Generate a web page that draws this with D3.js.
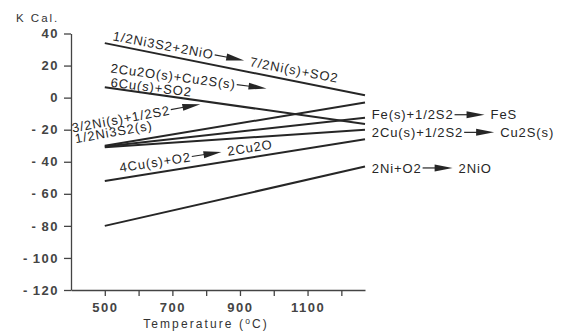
<!DOCTYPE html>
<html>
<head>
<meta charset="utf-8">
<script src="https://cdn.jsdelivr.net/npm/d3@7"></script>
<style>
  body { margin: 0; background: #fff; }
  svg text { font-family: "Liberation Sans", Arial, sans-serif; }
</style>
</head>
<body>
<svg id="chart" width="561" height="331"></svg>
<script>
// temperatures (deg C) at the two ends of every line
var temps = [500, 1270];

// free energy, K Cal, at 500 and at the right end
var ni3s2_nio = [34, 1.5];
var cu2o_cu2s = [6.5, -16.5];
var ni_s2 = [-30, -3];
var fe_s2 = [-30.5, -12.5];
var cu_s2 = [-31, -20];
var cu_o2 = [-52, -26];
var ni_o2 = [-80, -43];

var series = [ni3s2_nio, cu2o_cu2s, ni_s2, fe_s2, cu_s2, cu_o2, ni_o2];

var yTicks = [40, 20, 0, -20, -40, -60, -80, -100, -120];
var xTicks = [500, 600, 700, 800, 900, 1000, 1100, 1200];
var xTickLabels = [500, 700, 900, 1100];

var ARROW = "->";

// reaction labels: text parts, anchor (temp, kcal) and slant
var labels = [
  { parts: ["1/2Ni3S2+2NiO", ARROW, "7/2Ni(s)+SO2"], t: 522, v: 35.8, angle: 10.7 },
  { parts: ["2Cu2O(s)+Cu2S(s)", ARROW], t: 516, v: 15.6, angle: 7.5 },
  { parts: ["6Cu(s)+SO2"], t: 516, v: 6.8, angle: 7 },
  { parts: ["3/2Ni(s)+1/2S2", ARROW], t: 405, v: -21.8, angle: -10.5 },
  { parts: ["1/2Ni3S2(s)"], t: 414, v: -28.4, angle: -10 },
  { parts: ["4Cu(s)+O2", ARROW, "2Cu2O"], t: 546, v: -46.6, angle: -8.8 },
  { parts: ["Fe(s)+1/2S2", ARROW, "FeS"], t: 1290, v: -13.6, angle: 0 },
  { parts: ["2Cu(s)+1/2S2", ARROW, "Cu2S(s)"], t: 1290, v: -24.6, angle: 0 },
  { parts: ["2Ni+O2", ARROW, "2NiO"], t: 1290, v: -46.8, angle: 0 }
];

var ink = "#262626";
var svg = d3.select("#chart");

var x = d3.scaleLinear().domain([400, 1270]).range([71, 365]);
var y = d3.scaleLinear().domain([-120, 40]).range([290, 33.5]);

// axes
var yAxis = d3.axisLeft(y)
  .tickValues(yTicks)
  .tickSize(7)
  .tickSizeOuter(0)
  .tickPadding(5)
  .tickFormat(function (d) { return d < 0 ? "-\u2009" + (-d) : d; });

var xAxis = d3.axisBottom(x)
  .tickValues(xTicks)
  .tickSize(6)
  .tickSizeOuter(0)
  .tickPadding(7)
  .tickFormat(function (d) { return xTickLabels.indexOf(d) >= 0 ? d : ""; });

var gy = svg.append("g").attr("transform", "translate(" + x(400) + ",0)").call(yAxis);
var gx = svg.append("g").attr("transform", "translate(0," + y(-120) + ")").call(xAxis);

[gy, gx].forEach(function (g) {
  g.select(".domain").attr("stroke", "#444").attr("stroke-width", 1.3);
  g.selectAll(".tick line").attr("stroke", "#444").attr("stroke-width", 1.3);
  g.selectAll(".tick text")
    .attr("fill", "#444")
    .attr("font-size", 13)
    .attr("font-weight", "bold")
    .style("font-family", '"Liberation Sans", Arial, sans-serif')
    .style("letter-spacing", "1.5px");
});

// axis titles
svg.append("text")
  .attr("x", 16).attr("y", 21.5)
  .attr("font-size", 11.5)
  .attr("fill", "#333")
  .style("letter-spacing", "2px")
  .text("K Cal.");

var xt = svg.append("text")
  .attr("x", 206).attr("y", 328)
  .attr("text-anchor", "middle")
  .attr("font-size", 12)
  .attr("fill", "#333")
  .style("letter-spacing", "2.1px");
xt.append("tspan").text("Temperature (");
xt.append("tspan").attr("font-size", 8.5).attr("dy", -4).text("o");
xt.append("tspan").attr("dy", 4).text("C)");

// reaction lines
var line = d3.line()
  .x(function (d, i) { return x(temps[i]); })
  .y(function (d) { return y(d); });

svg.append("g").selectAll("path")
  .data(series)
  .enter().append("path")
  .attr("d", line)
  .attr("fill", "none")
  .attr("stroke", ink)
  .attr("stroke-width", 2);

// labels with little arrows
function drawLabel(g, parts) {
  var cx = 0;
  parts.forEach(function (p) {
    if (p === ARROW) {
      g.append("line")
        .attr("x1", cx + 1).attr("x2", cx + 14)
        .attr("y1", -4.7).attr("y2", -4.7)
        .attr("stroke", ink).attr("stroke-width", 1.2);
      g.append("path")
        .attr("d", "M" + (cx + 13) + ",-8.2 L" + (cx + 31) + ",-4.7 L" + (cx + 13) + ",-1.2 Z")
        .attr("fill", ink);
      cx += 37;
    } else {
      var t = g.append("text")
        .attr("x", cx)
        .attr("font-size", 13)
        .attr("fill", ink)
        .style("letter-spacing", "0.9px")
        .text(p);
      cx += t.node().getComputedTextLength();
    }
  });
}

labels.forEach(function (d) {
  var g = svg.append("g")
    .attr("transform", "translate(" + x(d.t) + "," + y(d.v) + ") rotate(" + d.angle + ")");
  drawLabel(g, d.parts);
});
</script>
</body>
</html>
